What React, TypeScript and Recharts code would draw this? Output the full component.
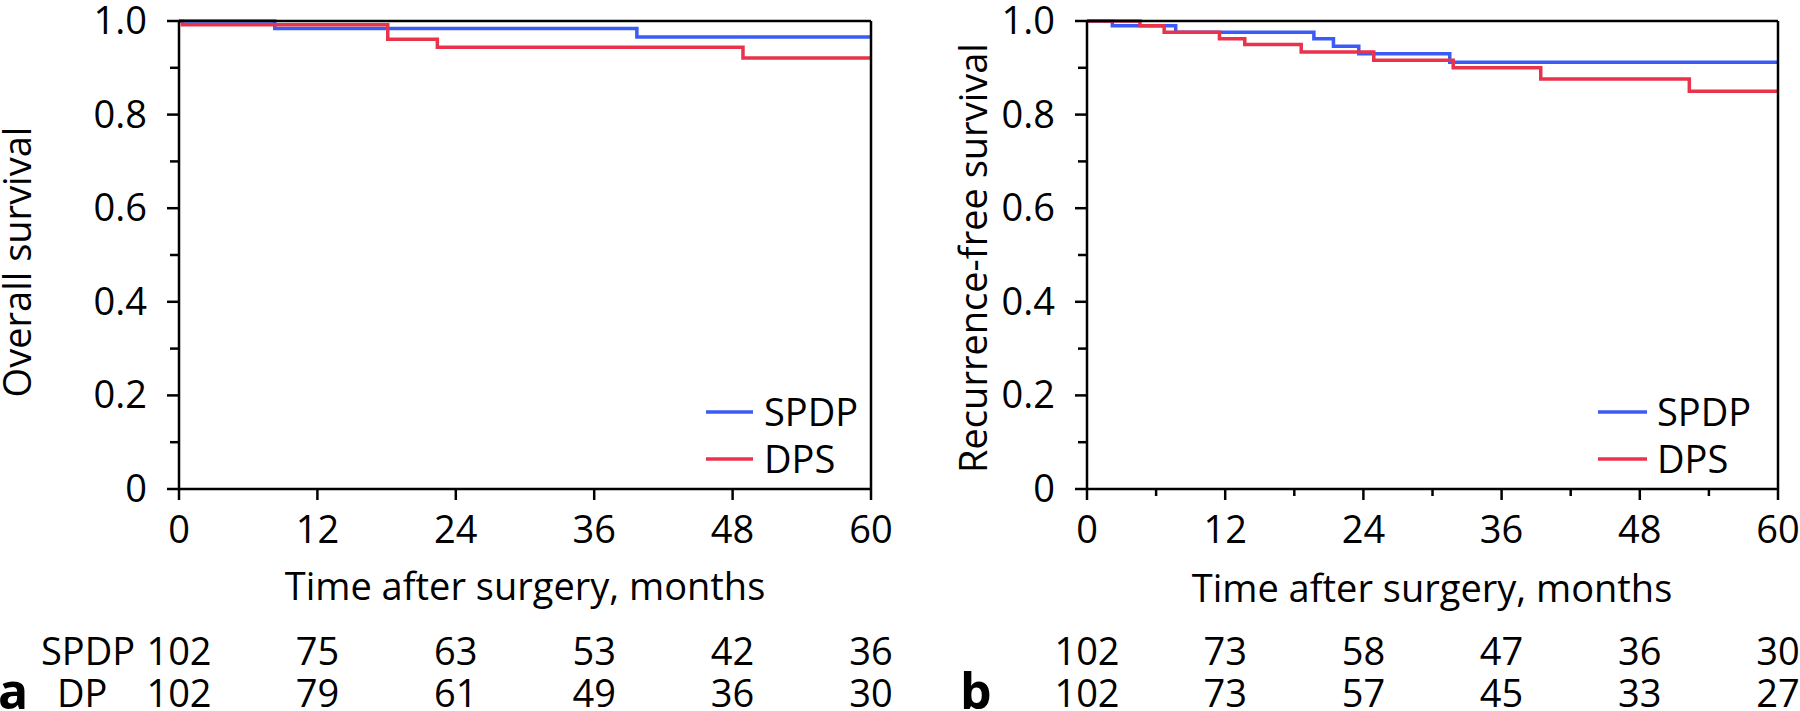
import React from 'react';
import { LineChart, Line, XAxis, YAxis, ReferenceLine } from 'recharts';

const FONT = '"Open Sans", "Noto Sans", sans-serif';
const BLUE = '#3b5bf6';
const RED = '#e8334b';

// a: overall survival (months, survival)
const osSpdp = [
  { t: 0, s: 1.0 }, { t: 8.3, s: 0.984 }, { t: 39.7, s: 0.966 }, { t: 60, s: 0.966 },
];
const osDps = [
  { t: 0, s: 1.0 }, { t: 0.3, s: 0.992 }, { t: 18.1, s: 0.961 }, { t: 22.4, s: 0.944 },
  { t: 48.9, s: 0.921 }, { t: 60, s: 0.921 },
];

// b: recurrence-free survival
const rfsSpdp = [
  { t: 0, s: 1.0 }, { t: 2.2, s: 0.99 }, { t: 7.7, s: 0.976 }, { t: 19.7, s: 0.962 },
  { t: 21.4, s: 0.946 }, { t: 23.6, s: 0.93 }, { t: 31.5, s: 0.912 }, { t: 60, s: 0.912 },
];
const rfsDps = [
  { t: 0, s: 1.0 }, { t: 4.6, s: 0.99 }, { t: 6.7, s: 0.976 }, { t: 11.5, s: 0.962 },
  { t: 13.7, s: 0.95 }, { t: 18.6, s: 0.934 }, { t: 24.9, s: 0.916 }, { t: 31.8, s: 0.9 },
  { t: 39.4, s: 0.876 }, { t: 52.3, s: 0.85 }, { t: 60, s: 0.85 },
];

const monthTicks = [0, 12, 24, 36, 48, 60];
const monthTicksMinor = [0, 6, 12, 18, 24, 30, 36, 42, 48, 54, 60];
const survivalTicks = [0, 0.1, 0.2, 0.3, 0.4, 0.5, 0.6, 0.7, 0.8, 0.9, 1.0];
const survivalLabels = ['0', '', '0.2', '', '0.4', '', '0.6', '', '0.8', '', '1.0'];

// numbers at risk
const riskSpdpA = [102, 75, 63, 53, 42, 36];
const riskDpA = [102, 79, 61, 49, 36, 30];
const riskSpdpB = [102, 73, 58, 47, 36, 30];
const riskDpB = [102, 73, 57, 45, 33, 27];

const seriesNames = ['SPDP', 'DPS'];

const YTick = (props: any) => {
  const { x, y, payload } = props;
  const label = survivalLabels[survivalTicks.indexOf(payload.value)];
  const major = label !== '' && label !== undefined;
  return (
    <g>
      <line x1={x} x2={x - (major ? 12 : 9)} y1={y} y2={y} stroke="#000" strokeWidth={2.5} />
      {major && (
        <text x={x - 32} y={y + 13} textAnchor="end" fontSize={38} fontFamily={FONT} fill="#000">
          {label}
        </text>
      )}
    </g>
  );
};

// tick mark + month label + numbers at risk in the same column
const makeXTick = (riskTop: number[], riskBottom: number[]) => (props: any) => {
  const { x, y, payload } = props;
  const major = payload.value % 12 === 0;
  const i = monthTicks.indexOf(payload.value);
  return (
    <g>
      <line x1={x} x2={x} y1={y} y2={y + (major ? 11 : 7)} stroke="#000" strokeWidth={2.5} />
      {major && (
        <g fontSize={38} fontFamily={FONT} fill="#000" textAnchor="middle">
          <text x={x} y={y + 54}>{payload.value}</text>
          <text x={x} y={y + 176}>{riskTop[i]}</text>
          <text x={x} y={y + 218}>{riskBottom[i]}</text>
        </g>
      )}
    </g>
  );
};

interface PanelProps {
  left: number;
  marginLeft: number;
  marginRight: number;
  blue: { t: number; s: number }[];
  red: { t: number; s: number }[];
  xTicks: number[];
  riskTop: number[];
  riskBottom: number[];
}

const Panel: React.FC<PanelProps> = ({ left, marginLeft, marginRight, blue, red, xTicks, riskTop, riskBottom }) => {
  const XTick = makeXTick(riskTop, riskBottom);
  return (
    <div style={{ position: 'absolute', left, top: 0 }}>
      <LineChart width={900} height={711} margin={{ top: 21, right: marginRight, left: marginLeft, bottom: 0 }}>
        <XAxis
          dataKey="t" type="number" domain={[0, 60]} ticks={xTicks} interval={0}
          height={222} tickSize={0} tickMargin={0} tickLine={false}
          axisLine={{ stroke: '#000', strokeWidth: 2.5 }} tick={(p: any) => <XTick {...p} />}
        />
        <YAxis
          type="number" domain={[0, 1]} ticks={survivalTicks} interval={0} width={100}
          tickSize={0} tickMargin={0} tickLine={false}
          axisLine={{ stroke: '#000', strokeWidth: 2.5 }} tick={(p: any) => <YTick {...p} />}
        />
        <Line data={blue} dataKey="s" name={seriesNames[0]} type="stepAfter"
          stroke={BLUE} strokeWidth={3.5} dot={false} isAnimationActive={false} />
        <Line data={red} dataKey="s" name={seriesNames[1]} type="stepAfter"
          stroke={RED} strokeWidth={3.5} dot={false} isAnimationActive={false} />
        <ReferenceLine y={1} stroke="#000" strokeWidth={2.5} />
        <ReferenceLine x={60} stroke="#000" strokeWidth={2.5} />
      </LineChart>
    </div>
  );
};

const txt = { fontSize: 38, fontFamily: FONT, fill: '#000' };

export default function App() {
  return (
    <div style={{ position: 'absolute', left: 0, top: 0, width: 1800, height: 711, background: '#fff' }}>
      <Panel left={0} marginLeft={79} marginRight={29} blue={osSpdp} red={osDps}
        xTicks={monthTicks} riskTop={riskSpdpA} riskBottom={riskDpA} />
      <Panel left={900} marginLeft={87} marginRight={22} blue={rfsSpdp} red={rfsDps}
        xTicks={monthTicksMinor} riskTop={riskSpdpB} riskBottom={riskDpB} />
      <svg width={1800} height={711} style={{ position: 'absolute', left: 0, top: 0, pointerEvents: 'none' }}>
        <text {...txt} transform="translate(31,262) rotate(-90)" textAnchor="middle">Overall survival</text>
        <text {...txt} transform="translate(987,258) rotate(-90)" textAnchor="middle">Recurrence-free survival</text>
        <text {...txt} x={525} y={600} textAnchor="middle">Time after surgery, months</text>
        <text {...txt} x={1432} y={602} textAnchor="middle">Time after surgery, months</text>

        <line x1={706} x2={753} y1={412} y2={412} stroke={BLUE} strokeWidth={3.5} />
        <text {...txt} x={764} y={426}>{seriesNames[0]}</text>
        <line x1={706} x2={753} y1={459} y2={459} stroke={RED} strokeWidth={3.5} />
        <text {...txt} x={764} y={473}>{seriesNames[1]}</text>

        <line x1={1598} x2={1647} y1={412} y2={412} stroke={BLUE} strokeWidth={3.5} />
        <text {...txt} x={1657} y={426}>{seriesNames[0]}</text>
        <line x1={1598} x2={1647} y1={459} y2={459} stroke={RED} strokeWidth={3.5} />
        <text {...txt} x={1657} y={473}>{seriesNames[1]}</text>

        <text {...txt} x={41} y={665}>SPDP</text>
        <text {...txt} x={57} y={707}>DP</text>
        <text {...txt} x={-2} y={709} fontSize={50} fontWeight="bold">a</text>
        <text {...txt} x={960} y={709} fontSize={50} fontWeight="bold">b</text>
      </svg>
    </div>
  );
}
